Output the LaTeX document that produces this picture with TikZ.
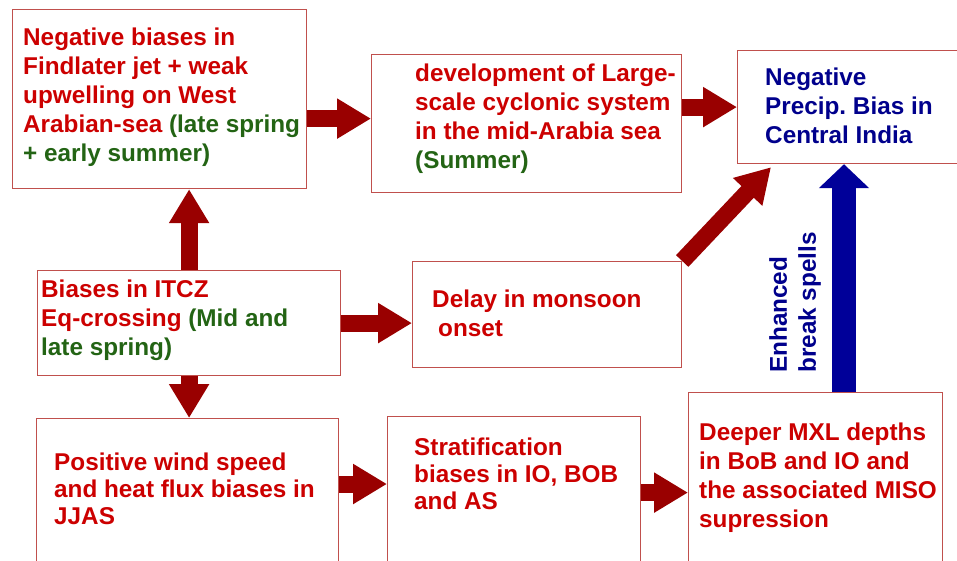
\documentclass[tikz,border=0pt]{standalone}
\usepackage{fontspec}
\setmainfont{Liberation Sans}
\usetikzlibrary{arrows.meta}

\definecolor{framered}{RGB}{192,80,77}
\definecolor{textred}{RGB}{204,0,0}
\definecolor{seasongreen}{RGB}{35,100,20}
\definecolor{arrowred}{RGB}{153,0,0}
\definecolor{navyblue}{RGB}{0,0,140}
\definecolor{arrowblue}{RGB}{0,0,153}
\newcommand{\grn}[1]{\textcolor{seasongreen}{#1}}

\begin{document}
\begin{tikzpicture}[
    x=1pt, y=-1pt,
    box/.style={draw=framered, line width=1.2pt, anchor=north west, inner sep=0pt},
    txt/.style={anchor=north west, inner sep=0pt, align=left, text=textred, font=\bfseries\fontsize{24.3}{29}\selectfont},
    tight/.style={font=\bfseries\fontsize{24.3}{27}\selectfont},
    redarrow/.style={draw=arrowred, line width=17pt, -{Triangle[length=34pt, width=38pt]}},
    bluearrow/.style={draw=arrowblue, line width=24pt, -{Triangle[length=24pt, width=49pt]}}
  ]
    \useasboundingbox (0,0) rectangle (957,560);

    \node[box, minimum width=294pt, minimum height=179pt] (findlater) at (12,9) {};
    \node[box, minimum width=310pt, minimum height=138pt] (cyclone) at (371,54) {};
    \node[box, minimum width=260pt, minimum height=113pt] (precip) at (737,50) {};
    \node[box, minimum width=303pt, minimum height=105pt] (itcz) at (37,270) {};
    \node[box, minimum width=269pt, minimum height=106pt] (onset) at (412,261) {};
    \node[box, minimum width=302pt, minimum height=200pt] (wind) at (36,418) {};
    \node[box, minimum width=253pt, minimum height=200pt] (strat) at (387,416) {};
    \node[box, minimum width=254pt, minimum height=200pt] (mxl) at (688,392) {};

    \node[txt] (findlatertxt) at ([shift={(11,19)}]findlater.north west)
      {Negative biases in\\Findlater jet + weak\\upwelling on West\\Arabian-sea \grn{(late spring}\\\grn{+ early summer)}};
    \node[txt] (cyclonetxt) at ([shift={(44,10)}]cyclone.north west)
      {development of Large-\\scale cyclonic system\\in the mid-Arabia sea\\\grn{(Summer)}};
    \node[txt, text=navyblue] (preciptxt) at ([shift={(28,18)}]precip.north west)
      {Negative\\Precip.\ Bias in\\Central India};
    \node[txt] (itcztxt) at ([shift={(4,10)}]itcz.north west)
      {Biases in ITCZ\\Eq-crossing \grn{(Mid and}\\\grn{late spring)}};
    \node[txt] (onsettxt) at ([shift={(20,29)}]onset.north west)
      {Delay in monsoon\\\hspace*{6pt}onset};
    \node[txt, tight] (windtxt) at ([shift={(18,35)}]wind.north west)
      {Positive wind speed\\and heat flux biases in\\JJAS};
    \node[txt, tight] (strattxt) at ([shift={(27,22)}]strat.north west)
      {Stratification\\biases in IO, BOB\\and AS};
    \node[txt] (mxltxt) at ([shift={(11,31)}]mxl.north west)
      {Deeper MXL depths\\in BoB and IO and\\the associated MISO\\supression};

    \coordinate (abtip) at ([yshift=5pt]cyclone.west);
    \coordinate (fgtail) at ([yshift=-66pt]wind.north east);
    \coordinate (bluetip) at ([xshift=107pt]precip.south west);

    \draw[redarrow] (findlater.east |- abtip) -- (abtip);
    \draw[redarrow] (cyclone.east |- precip.west) -- (precip.west);
    \draw[redarrow] (itcz.north) -- (itcz.north |- findlater.south);
    \draw[redarrow] (itcz.east) -- (itcz.east -| onset.west);
    \draw[redarrow] (itcz.south) -- (itcz.south |- wind.north);
    \draw[redarrow] (fgtail) -- (fgtail -| strat.west);
    \draw[redarrow] (strat.east |- mxl.west) -- (mxl.west);
    \draw[redarrow] (onset.north east) -- ([xshift=34pt,yshift=-3pt]precip.south west);
    \draw[bluearrow] (bluetip |- mxl.north) -- (bluetip);

    \node[txt, text=navyblue, rotate=90, anchor=south west] (breaks) at (821,373) {Enhanced\\break spells};
  \end{tikzpicture}
\end{document}
